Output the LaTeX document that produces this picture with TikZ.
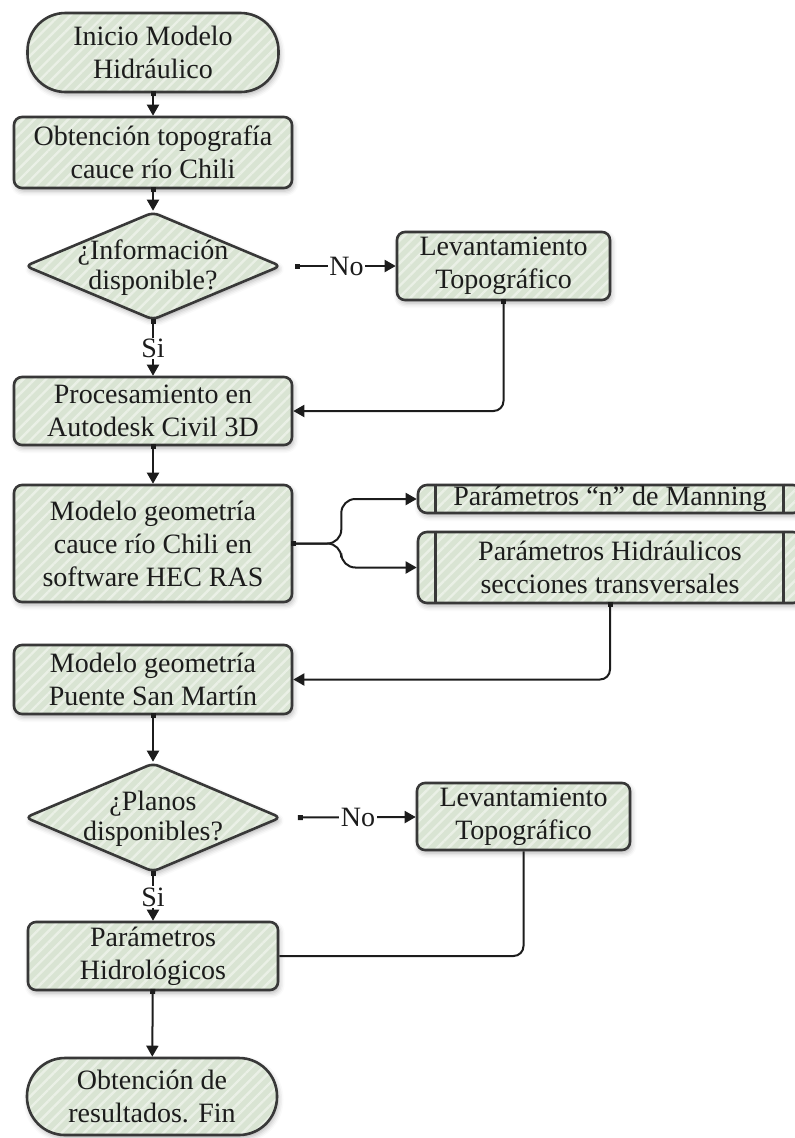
\documentclass[tikz,border=0pt]{standalone}
\usepackage{fontspec}
\setmainfont{Liberation Serif}
\usetikzlibrary{arrows.meta,shapes.geometric,patterns.meta,shadows.blur}

\definecolor{boxfill}{HTML}{D9E4D3}
\definecolor{boxstripe}{HTML}{EAF0E6}
\definecolor{boxline}{HTML}{383838}
\definecolor{inkc}{HTML}{1C1C1C}

\tikzset{
  shapebase/.style={draw=boxline, line width=2.6pt, inner sep=0pt, align=center,
    text=inkc, font=\fontsize{28}{33}\selectfont,
    blur shadow={shadow xshift=1.5pt, shadow yshift=-3pt, shadow blur radius=5pt, shadow opacity=30},
    preaction={fill=boxfill},
    pattern={Lines[angle=45,distance=8pt,line width=2.4pt]}, pattern color=boxstripe},
  procbox/.style={shapebase, rectangle, rounded corners=8pt},
  termbox/.style={shapebase, rectangle, rounded corners=38pt},
  decbox/.style={shapebase, diamond, rounded corners=6pt},
  predef/.style={procbox, rounded corners=9pt},
  txt/.style={inner sep=0pt, align=center, text=inkc, font=\fontsize{28}{33}\selectfont},
  dectxt/.style={txt, font=\fontsize{28}{30}\selectfont},
  lbl/.style={txt, fill=white, inner sep=1.5pt},
  conn/.style={draw=inkc, line width=2pt,
    {Square[length=5pt,width=5pt]}-{Triangle[length=11pt,width=12pt]}, shorten <=-2.5pt},
  plainline/.style={draw=inkc, line width=2pt},
  bar/.style={draw=boxline, line width=2.6pt}
}

\begin{document}
\begin{tikzpicture}[x=1pt, y=-1pt]
\useasboundingbox (0,0) rectangle (795,1138);

% main column
\node[termbox, minimum width=251pt, minimum height=79pt] (start) at (153,52.5)
  {Inicio Modelo\\Hidráulico};
\node[procbox, minimum width=278pt, minimum height=71pt] (obt) at (153,152.5)
  {Obtención topografía\\cauce río Chili};
\node[decbox, minimum width=256pt, minimum height=108pt] (d1) at (153,266) {};
\node[dectxt] (d1t) at (153,268) {¿Información\\disponible?};
\node[procbox, minimum width=213pt, minimum height=68pt] (lev1) at (503.5,266)
  {Levantamiento\\Topográfico};
\node[procbox, minimum width=278pt, minimum height=68pt] (proc) at (153,411)
  {Procesamiento en\\Autodesk Civil 3D};
\node[procbox, minimum width=278pt, minimum height=117pt] (hec) at (153,543.5)
  {Modelo geometría\\cauce río Chili en\\software HEC RAS};

% predefined processes on the right
\node[predef, minimum width=384pt, minimum height=28pt] (mann) at (610,499)
  {Parámetros “n” de Manning};
\node[predef, minimum width=384pt, minimum height=71pt] (hidr) at (610,567.5)
  {Parámetros Hidráulicos\\secciones transversales};
\foreach \n in {mann,hidr}{
  \draw[bar] ([xshift=19pt]\n.north west) -- ([xshift=19pt]\n.south west);
  \draw[bar] ([xshift=-20pt]\n.north east) -- ([xshift=-20pt]\n.south east);
}

\node[procbox, minimum width=278pt, minimum height=69pt] (puente) at (153,679.5)
  {Modelo geometría\\Puente San Martín};
\node[decbox, minimum width=256pt, minimum height=109pt] (d2) at (153,817.5) {};
\node[dectxt] (d2t) at (153,819) {¿Planos\\disponibles?};
\node[procbox, minimum width=213pt, minimum height=67pt] (lev2) at (523.5,816.5)
  {Levantamiento\\Topográfico};
\node[procbox, minimum width=250pt, minimum height=68pt] (hidrol) at (153,956)
  {Parámetros\\Hidrológicos};
\node[termbox, minimum width=250pt, minimum height=77pt] (fin) at (152,1096.5)
  {Obtención de\\resultados. Fin};

% connectors
\draw[conn] (start) -- (obt);
\draw[conn] (obt) -- (d1);
\draw[conn] ([xshift=15pt]d1.east) -- node[lbl] (no1) {No} (lev1);
\draw[conn] (d1) -- node[lbl] (si1) {Si} (proc);
\draw[conn, rounded corners=10pt] (lev1.south) |- (proc.east);
\draw[conn] (proc) -- (hec);
\draw[conn, rounded corners=14pt] (hec.east) -- ++(48,0) |- (mann.west);
\draw[conn, rounded corners=14pt] (hec.east) -- ++(48,0) |- (hidr.west);
\draw[conn, rounded corners=10pt] (hidr.south) |- (puente.east);
\draw[conn] (puente) -- (d2);
\draw[conn] ([xshift=18pt]d2.east) -- node[lbl] (no2) {No} (lev2);
\draw[conn] (d2) -- node[lbl] (si2) {Si} (hidrol);
\draw[plainline, rounded corners=10pt] (lev2.south) |- (hidrol.east);
\draw[conn] (hidrol) -- (fin);
\end{tikzpicture}
\end{document}
